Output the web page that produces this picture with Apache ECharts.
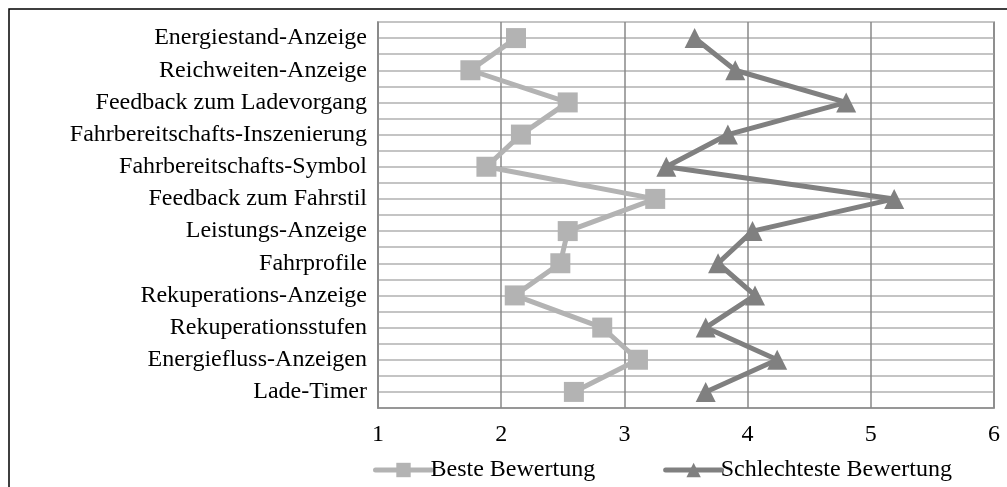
<!DOCTYPE html>
<html>
<head>
<meta charset="utf-8">
<script src="https://cdn.jsdelivr.net/npm/echarts@6/dist/echarts.min.js"></script>
<style>
html,body{margin:0;padding:0;background:#fff;}
#chart{width:1007px;height:487px;}
</style>
</head>
<body>
<div id="chart"></div>
<script>
const categories = [
  'Energiestand-Anzeige',
  'Reichweiten-Anzeige',
  'Feedback zum Ladevorgang',
  'Fahrbereitschafts-Inszenierung',
  'Fahrbereitschafts-Symbol',
  'Feedback zum Fahrstil',
  'Leistungs-Anzeige',
  'Fahrprofile',
  'Rekuperations-Anzeige',
  'Rekuperationsstufen',
  'Energiefluss-Anzeigen',
  'Lade-Timer'
];
const besteBewertung = [2.12, 1.75, 2.54, 2.16, 1.88, 3.25, 2.54, 2.48, 2.11, 2.82, 3.11, 2.59];
const schlechtesteBewertung = [3.57, 3.90, 4.80, 3.84, 3.34, 5.19, 4.04, 3.76, 4.06, 3.66, 4.24, 3.66];
const xTicks = [1, 2, 3, 4, 5, 6];
const seriesNames = ['Beste Bewertung', 'Schlechteste Bewertung'];

const font = 'Liberation Serif';
const chart = echarts.init(document.getElementById('chart'));
chart.setOption({
  animation: false,
  backgroundColor: '#fff',
  graphic: [{
    type: 'rect',
    shape: {x: 9, y: 9, width: 1010, height: 500},
    style: {fill: 'none', stroke: '#000', lineWidth: 1.5},
    silent: true
  }],
  grid: {left: 378, top: 22, width: 616, height: 386, show: true, borderColor: '#888', borderWidth: 1.5},
  xAxis: {
    type: 'value',
    min: xTicks[0],
    max: xTicks[xTicks.length - 1],
    interval: 1,
    axisLine: {show: true, onZero: false, lineStyle: {color: '#888', width: 1.5}},
    axisTick: {show: false},
    axisLabel: {color: '#000', fontFamily: font, fontSize: 24, margin: 15},
    splitLine: {show: true, lineStyle: {color: '#888', width: 1.5}}
  },
  yAxis: {
    type: 'value',
    inverse: true,
    min: -0.5,
    max: categories.length - 0.5,
    interval: 0.5,
    axisLine: {show: true, onZero: false, lineStyle: {color: '#888', width: 1.5}},
    axisTick: {show: false},
    axisLabel: {
      color: '#000', fontFamily: font, fontSize: 24, margin: 11,
      formatter: function (v) {
        return Number.isInteger(v) && v >= 0 && v < categories.length ? categories[v] : '';
      }
    },
    splitLine: {show: true, lineStyle: {color: '#c4c4c4', width: 2}}
  },
  legend: {
    top: 453,
    left: 368,
    itemWidth: 56,
    itemHeight: 18,
    itemGap: 68,
    lineStyle: {width: 5, cap: 'round'},
    textStyle: {color: '#000', fontFamily: font, fontSize: 24, padding: [0, 0, 0, -6]},
    data: seriesNames
  },
  series: [
    {
      name: seriesNames[0],
      type: 'line',
      data: besteBewertung.map((v, i) => [v, i]),
      symbol: 'rect',
      symbolSize: 20,
      lineStyle: {color: '#b3b3b3', width: 5},
      itemStyle: {color: '#b3b3b3'}
    },
    {
      name: seriesNames[1],
      type: 'line',
      data: schlechtesteBewertung.map((v, i) => [v, i]),
      symbol: 'triangle',
      symbolSize: 20,
      lineStyle: {color: '#808080', width: 5},
      itemStyle: {color: '#808080'}
    }
  ]
});
</script>
</body>
</html>
